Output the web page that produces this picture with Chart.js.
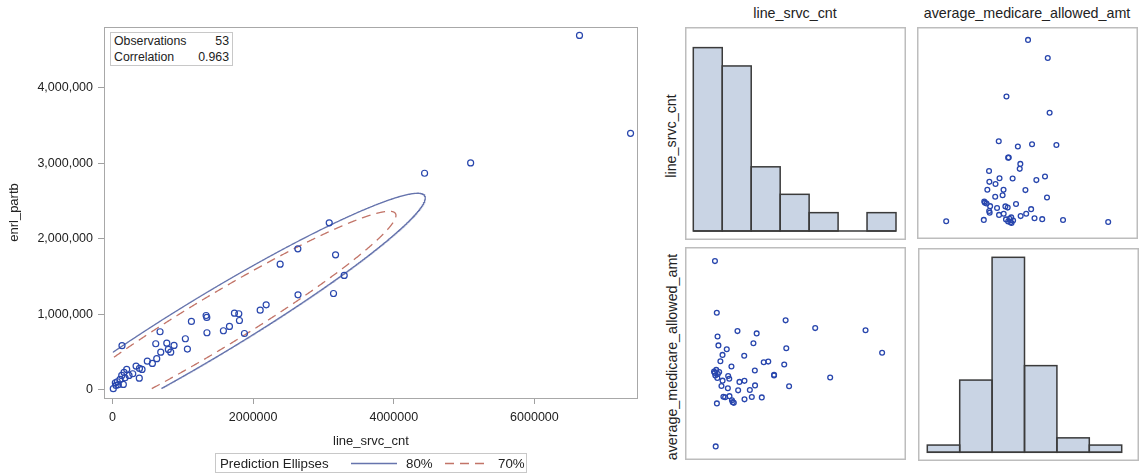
<!DOCTYPE html>
<html>
<head>
<meta charset="utf-8">
<script src="https://cdn.jsdelivr.net/npm/chart.js@4.4.1/dist/chart.umd.min.js"></script>
<style>
  body { margin: 0; background: #fff; }
  #wrap { position: relative; width: 1144px; height: 474px; overflow: hidden;
          font-family: "Liberation Sans", Arial, sans-serif; color: #222; }
  #wrap canvas { position: absolute; }
  .lbl { position: absolute; white-space: nowrap; line-height: 1; font-size: 14.3px; }
  .ctr { transform: translate(-50%, -50%); }
  .rot { transform: translate(-50%, -50%) rotate(-90deg); }
  #inset { position: absolute; left: 110px; top: 32px; width: 121px; height: 32px;
           border: 1px solid #c8c8c8; background: #fff; font-size: 12.3px; }
  #inset span { position: absolute; line-height: 1; }
  #legend { position: absolute; left: 215px; top: 453px; width: 310px; height: 18px;
            border: 1px solid #c8c8c8; font-size: 13.3px; }
  #legend span { position: absolute; top: 3px; line-height: 1; }
  #legend svg { position: absolute; left: 0; top: 0; }
</style>
</head>
<body>
<div id="wrap">
  <canvas id="main" width="660" height="474" style="left:0;top:0"></canvas>
  <canvas id="histLine" width="221" height="213" style="left:685px;top:27px"></canvas>
  <canvas id="scatTR" width="221" height="212" style="left:917px;top:27px"></canvas>
  <canvas id="scatBL" width="221" height="213" style="left:685px;top:247px"></canvas>
  <canvas id="histAvg" width="221" height="213" style="left:918px;top:248px"></canvas>

  <div id="inset">
    <span style="left:3px;top:2px">Observations</span>
    <span id="obsN" style="right:3px;top:2px"></span>
    <span style="left:3px;top:18px">Correlation</span>
    <span id="corrR" style="right:3px;top:18px"></span>
  </div>

  <div id="legend">
    <span style="left:4px">Prediction Ellipses</span>
    <svg width="310" height="18">
      <line x1="135" y1="9.5" x2="181" y2="9.5" stroke="#6674ad" stroke-width="1.3"/>
      <line x1="229" y1="9.5" x2="274" y2="9.5" stroke="#c27468" stroke-width="1.3" stroke-dasharray="9,6"/>
    </svg>
    <span style="left:190px">80%</span>
    <span style="left:282px">70%</span>
  </div>

  <div class="lbl ctr" style="left:795px;top:13px">line_srvc_cnt</div>
  <div class="lbl ctr" style="left:1027px;top:13px">average_medicare_allowed_amt</div>
  <div class="lbl rot" style="left:671px;top:136px">line_srvc_cnt</div>
  <div class="lbl rot" style="left:672px;top:357px">average_medicare_allowed_amt</div>
</div>

<script>
// one entry per observation (53 rows)
const lineSrvcCnt = [
  11000, 40000, 50000, 68000, 83000, 107000, 131000, 135000, 154000, 164000,
  178000, 202000, 235000, 288000, 335000, 381000, 383000, 420000, 495000, 567000,
  615000, 629000, 676000, 686000, 772000, 794000, 828000, 875000, 1036000, 1065000,
  1122000, 1331000, 1341000, 1343000, 1577000, 1663000, 1734000, 1796000, 1805000, 1876000,
  2100000, 2185000, 2384000, 2636000, 2638000, 3082000, 3143000, 3172000, 3295000, 4438000,
  5093000, 6641000, 7367000
];
const enrlPartb = [
  16000, 95000, 60000, 108000, 69000, 139000, 192000, 585000, 73000, 231000,
  161000, 271000, 192000, 214000, 315000, 156000, 284000, 271000, 381000, 351000,
  611000, 413000, 770000, 500000, 619000, 536000, 500000, 589000, 677000, 540000,
  906000, 985000, 959000, 757000, 783000, 840000, 1016000, 1008000, 919000, 747000,
  1056000, 1127000, 1664000, 1868000, 1259000, 2212000, 1276000, 1788000, 1515000, 2868000,
  3005000, 4693000, 3397000
];
const avgAllowedAmt = [
  91.5, 90.8, 154.2, 89.3, 49.1, 92.5, 124.9, 73.5, 87.9, 111.4,
  90.2, 106.4, 91.3, 97.4, 83.4, 101.0, 86.4, 77.3, 77.0, 104.2,
  82.1, 89.0, 87.5, 77.6, 94.4, 75.3, 74.2, 73.8, 114.5, 80.9,
  85.7, 100.5, 86.3, 75.8, 81.1, 77.1, 107.6, 92.2, 83.7, 113.2,
  76.9, 96.8, 97.2, 89.3, 89.7, 95.6, 120.6, 104.8, 83.2, 116.2,
  88.2, 115.0, 102.2
];

// histogram bin edges for the diagonal panels
const lineBinEdges = [-600000, 600000, 1800000, 3000000, 4200000, 5400000, 6600000, 7800000];
const avgBinEdges = [40, 60, 80, 100, 120, 140, 160];

const xTicksMain = [0, 2000000, 4000000, 6000000];
const yTicksMain = [0, 1000000, 2000000, 3000000, 4000000];
const ellipseLevels = [0.8, 0.7];

const FONT = '"Liberation Sans", Arial, sans-serif';
const TEXT = '#222';
const MARKER = '#2846ad';
const ELLIPSE_COLORS = ['#6674ad', '#c27468'];
const BAR_FILL = '#c9d4e4';
const BAR_LINE = '#3b3b3b';

Chart.defaults.font.family = FONT;
Chart.defaults.color = TEXT;

function mean(a) { return a.reduce((s, v) => s + v, 0) / a.length; }

function pearson(xs, ys) {
  const mx = mean(xs), my = mean(ys);
  let sxy = 0, sxx = 0, syy = 0;
  for (let i = 0; i < xs.length; i++) {
    const dx = xs[i] - mx, dy = ys[i] - my;
    sxy += dx * dy; sxx += dx * dx; syy += dy * dy;
  }
  return sxy / Math.sqrt(sxx * syy);
}

// bivariate-normal prediction ellipse, clipped at the data minimum
function predictionEllipse(xs, ys, level, steps) {
  const n = xs.length;
  const mx = mean(xs), my = mean(ys);
  let sxx = 0, syy = 0, sxy = 0;
  for (let i = 0; i < n; i++) {
    const dx = xs[i] - mx, dy = ys[i] - my;
    sxx += dx * dx; syy += dy * dy; sxy += dx * dy;
  }
  sxx /= n - 1; syy /= n - 1; sxy /= n - 1;
  const m = n - 2;
  const fq = (m / 2) * (Math.pow(1 - level, -2 / m) - 1);   // F(2, n-2) quantile
  const r = Math.sqrt(2 * (n - 1) * (n + 1) / (n * (n - 2)) * fq);
  const l11 = Math.sqrt(sxx), l21 = sxy / l11, l22 = Math.sqrt(syy - l21 * l21);
  const xmin = Math.min(...xs), ymin = Math.min(...ys);
  const pts = [];
  for (let i = 0; i <= steps; i++) {
    const t = Math.PI + 2 * Math.PI * i / steps;
    const c = Math.cos(t), s = Math.sin(t);
    const x = mx + r * l11 * c;
    const y = my + r * (l21 * c + l22 * s);
    pts.push(x < xmin || y < ymin ? { x, y: null } : { x, y });
  }
  return pts;
}

function binCounts(values, edges) {
  const counts = new Array(edges.length - 1).fill(0);
  values.forEach(v => {
    for (let i = 0; i < counts.length; i++) {
      if (v >= edges[i] && v < edges[i + 1]) { counts[i]++; break; }
    }
  });
  return counts;
}

const withCommas = v => String(v).replace(/\B(?=(\d{3})+(?!\d))/g, ',');

// plot frame: chart area, or the whole canvas for matrix cells
const framePlugin = {
  id: 'frame',
  beforeDatasetsDraw(chart, args, opts) {
    const ctx = chart.ctx;
    const w = opts.width || 1;
    ctx.save();
    ctx.strokeStyle = opts.color || '#a8a8a8';
    ctx.lineWidth = w;
    if (opts.whole) {
      ctx.strokeRect(w / 2, w / 2, chart.width - w, chart.height - w);
    } else {
      const a = chart.chartArea;
      ctx.strokeRect(a.left + 0.5, a.top + 0.5, a.right - a.left - 1, a.bottom - a.top);
    }
    ctx.restore();
  }
};

// histogram outlines drawn once per edge, plus the zero baseline
const histOutline = {
  id: 'histOutline',
  afterDatasetsDraw(chart) {
    const ctx = chart.ctx;
    const bars = chart.getDatasetMeta(0).data;
    ctx.save();
    ctx.strokeStyle = BAR_LINE;
    ctx.lineWidth = 1.5;
    let left = Infinity, right = -Infinity, base = 0;
    bars.forEach((el, i) => {
      const p = el.getProps(['x', 'y', 'base', 'width'], true);
      const l = p.x - p.width / 2;
      left = Math.min(left, l); right = Math.max(right, l + p.width); base = p.base;
      if (chart.data.datasets[0].data[i] > 0) ctx.strokeRect(l, p.y, p.width, p.base - p.y);
    });
    ctx.beginPath();
    ctx.moveTo(left, base);
    ctx.lineTo(right, base);
    ctx.stroke();
    ctx.restore();
  }
};

const staticOpts = {
  responsive: false,
  animation: false,
  devicePixelRatio: 1,
  events: []
};

// ---- left: scatter with prediction ellipses ----
const obsPoints = lineSrvcCnt.map((v, i) => ({ x: v, y: enrlPartb[i] }));
const ellipseSets = ellipseLevels.map((lvl, k) => ({
  label: Math.round(lvl * 100) + '%',
  data: predictionEllipse(lineSrvcCnt, enrlPartb, lvl, 2400),
  showLine: true,
  pointRadius: 0,
  borderColor: ELLIPSE_COLORS[k],
  borderWidth: 1.3,
  borderDash: k === 1 ? [9, 6] : [],
  tension: 0
}));

document.getElementById('obsN').textContent = lineSrvcCnt.length;
document.getElementById('corrR').textContent = pearson(lineSrvcCnt, enrlPartb).toFixed(3);

const tickGrid = { display: true, drawOnChartArea: false, drawTicks: true, tickLength: 6, color: '#a0a0a0' };

new Chart(document.getElementById('main'), {
  type: 'scatter',
  data: {
    datasets: [{
      label: 'obs',
      data: obsPoints,
      pointRadius: 3,
      borderWidth: 1.2,
      pointBorderWidth: 1.2,
      borderColor: MARKER,
      backgroundColor: 'rgba(0,0,0,0)'
    }].concat(ellipseSets)
  },
  options: Object.assign({}, staticOpts, {
    layout: { padding: { top: 27, right: 22, left: 0, bottom: 0 } },
    plugins: {
      legend: { display: false },
      tooltip: { enabled: false },
      frame: { color: '#a8a8a8', width: 1 }
    },
    scales: {
      x: {
        type: 'linear', min: -121000, max: 7473000,
        afterFit: s => { s.height = 76; },
        afterBuildTicks: s => { s.ticks = xTicksMain.map(v => ({ value: v })); },
        ticks: { callback: v => String(v), font: { size: 12.5 }, color: TEXT, padding: 6, maxRotation: 0, autoSkip: false },
        grid: tickGrid,
        border: { display: false },
        title: { display: true, text: 'line_srvc_cnt', font: { size: 13 }, color: TEXT, padding: { top: 0, bottom: 25 } }
      },
      y: {
        type: 'linear', min: -107000, max: 4804000,
        afterFit: s => { s.width = 104; },
        afterBuildTicks: s => { s.ticks = yTicksMain.map(v => ({ value: v })); },
        ticks: { callback: v => withCommas(v), font: { size: 12.5 }, color: TEXT, padding: 5 },
        grid: tickGrid,
        border: { display: false },
        title: { display: true, text: 'enrl_partb', font: { size: 13 }, color: TEXT, padding: { top: 7, bottom: 0 } }
      }
    }
  }),
  plugins: [framePlugin]
});

// ---- scatter matrix ----
function matrixScatter(id, xs, ys, xr, yr) {
  return new Chart(document.getElementById(id), {
    type: 'scatter',
    data: {
      datasets: [{
        data: xs.map((v, i) => ({ x: v, y: ys[i] })),
        pointRadius: 2.4,
        borderWidth: 1.3,
        pointBorderWidth: 1.3,
        borderColor: MARKER,
        backgroundColor: 'rgba(0,0,0,0)'
      }]
    },
    options: Object.assign({}, staticOpts, {
      layout: { padding: 0 },
      plugins: { legend: { display: false }, tooltip: { enabled: false }, frame: { whole: true, color: '#bdbdbd', width: 1.5 } },
      scales: {
        x: { type: 'linear', display: false, min: xr[0], max: xr[1] },
        y: { type: 'linear', display: false, min: yr[0], max: yr[1] }
      }
    }),
    plugins: [framePlugin]
  });
}

function matrixHist(id, values, edges, yMax, pad) {
  const counts = binCounts(values, edges);
  return new Chart(document.getElementById(id), {
    type: 'bar',
    data: {
      labels: counts.map((c, i) => (edges[i] + edges[i + 1]) / 2),
      datasets: [{
        data: counts,
        backgroundColor: BAR_FILL,
        borderWidth: 0,
        barPercentage: 1,
        categoryPercentage: 1
      }]
    },
    options: Object.assign({}, staticOpts, {
      layout: { padding: pad },
      plugins: { legend: { display: false }, tooltip: { enabled: false }, frame: { whole: true, color: '#bdbdbd', width: 1.5 } },
      scales: {
        x: { display: false },
        y: { display: false, min: 0, max: yMax }
      }
    }),
    plugins: [framePlugin, histOutline]
  });
}

matrixHist('histLine', lineSrvcCnt, lineBinEdges, 22.25, { left: 8.3, right: 10, top: 0, bottom: 9 });
matrixScatter('scatTR', avgAllowedAmt, lineSrvcCnt, [33.6, 170.1], [-420000, 7672000]);
matrixScatter('scatBL', lineSrvcCnt, avgAllowedAmt, [-1029000, 8180000], [44.4, 159.2]);
matrixHist('histAvg', avgAllowedAmt, avgBinEdges, 28.29, { left: 9.3, right: 17.3, top: 0, bottom: 8.7 });
</script>
</body>
</html>
